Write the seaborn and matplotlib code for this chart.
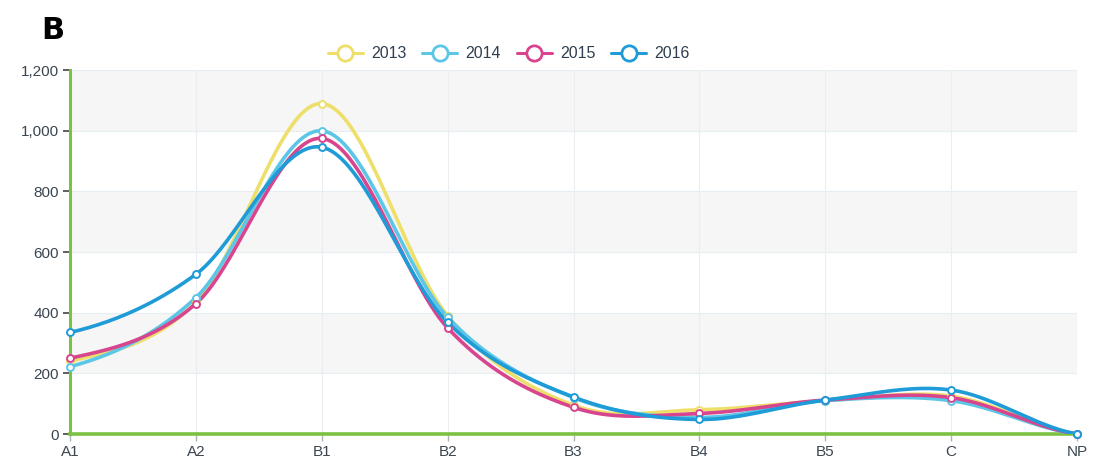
import numpy as np
import pandas as pd
import matplotlib
matplotlib.use("Agg")
import matplotlib.pyplot as plt
import seaborn as sns
from matplotlib.lines import Line2D

categories = ["A1", "A2", "B1", "B2", "B3", "B4", "B5", "C", "NP"]
years = ["2013", "2014", "2015", "2016"]
v2013 = [240, 435, 1090, 390, 95, 80, 110, 125, 0]
v2014 = [222, 450, 1000, 385, 120, 55, 110, 110, 0]
v2015 = [250, 430, 975, 350, 88, 68, 112, 120, 0]
v2016 = [335, 527, 946, 368, 122, 48, 112, 145, 0]
yticks = [0, 200, 400, 600, 800, 1000, 1200]
colors = ["#eedf6a", "#5cc6e6", "#d8458f", "#1f9bd7"]

series = [v2013, v2014, v2015, v2016]

sns.set_theme(style="white")
plt.rcParams['font.family'] = ['Liberation Sans', 'DejaVu Sans']

fig = plt.figure(figsize=(10.94, 4.68), dpi=100)
ax = fig.add_axes([0.064, 0.0726, 0.9205, 0.7774])


def catmull(xs, ys, n=40):
    xs = np.asarray(xs, float)
    ys = np.asarray(ys, float)
    px = np.concatenate([[2 * xs[0] - xs[1]], xs, [2 * xs[-1] - xs[-2]]])
    py = np.concatenate([[ys[0]], ys, [ys[-1]]])
    ox, oy = [], []
    for i in range(1, len(px) - 2):
        t = np.linspace(0, 1, n, endpoint=False)
        p0, p1, p2, p3 = py[i - 1], py[i], py[i + 1], py[i + 2]
        x1, x2 = px[i], px[i + 1]
        ox.append(x1 + (x2 - x1) * t)
        oy.append(0.5 * ((2 * p1) + (-p0 + p2) * t + (2 * p0 - 5 * p1 + 4 * p2 - p3) * t ** 2
                         + (-p0 + 3 * p1 - 3 * p2 + p3) * t ** 3))
    ox.append([xs[-1]])
    oy.append([ys[-1]])
    return np.concatenate(ox), np.concatenate(oy)


# background bands
for i, lo in enumerate(yticks[:-1]):
    if i % 2 == 1:
        ax.axhspan(lo, lo + 200, color="#f6f6f6", zorder=0, lw=0)
for y in yticks:
    ax.axhline(y, color="#e6eef3", lw=0.8, zorder=0.5)
for x in range(len(categories)):
    ax.axvline(x, color="#e9eef2", lw=0.8, zorder=0.5)

xpos = np.arange(len(categories))
rows = []
for yr, vals in zip(years, series):
    sx, sy = catmull(xpos, vals)
    rows.append(pd.DataFrame({"x": sx, "value": sy, "year": yr}))
smooth = pd.concat(rows, ignore_index=True)
raw = pd.DataFrame({
    "x": np.tile(xpos, len(years)),
    "value": np.concatenate(series),
    "year": np.repeat(years, len(categories)),
})
pal = dict(zip(years, colors))

sns.lineplot(data=smooth, x="x", y="value", hue="year", palette=pal, lw=2.6,
             ax=ax, legend=False, sort=False, estimator=None, zorder=3)
for yr in years:
    d = raw[raw.year == yr]
    ax.plot(d.x, d.value, ls="none", marker="o", ms=5, mfc="white",
            mec=pal[yr], mew=1.4, zorder=4, clip_on=False)

ax.set_xlim(0, len(categories) - 1)
ax.set_ylim(0, 1200)
ax.set_xticks(xpos)
ax.set_xticklabels(categories)
ax.set_yticks(yticks)
ax.set_yticklabels([f"{v:,}" for v in yticks])
ax.set_xlabel("")
ax.set_ylabel("")
for s in ["top", "right"]:
    ax.spines[s].set_visible(False)
ax.spines["left"].set_color("#7cc242")
ax.spines["left"].set_linewidth(2.2)
ax.spines["bottom"].set_color("#7cc242")
ax.spines["bottom"].set_linewidth(2.6)
ax.tick_params(axis="y", length=5, width=1.2, color="#444444", labelsize=11,
               labelcolor="#3a4550", pad=3, left=True)
ax.tick_params(axis="x", length=5, width=1, color="#aab4bb", labelsize=11,
               labelcolor="#3a4550", pad=3, bottom=True)

handles = [Line2D([0], [0], color=c, lw=2.2, marker="o", ms=11, mfc="white", mew=2)
           for c in colors]
fig.legend(handles, years, loc="center", bbox_to_anchor=(0.465, 0.885), ncol=4,
           frameon=False, fontsize=11.5, handlelength=2.2, columnspacing=1.0,
           handletextpad=0.5, labelcolor="#2f3f4f")

fig.text(0.038, 0.935, "B", fontsize=22, fontweight="bold", color="black",
         ha="left", va="center", family=["DejaVu Sans"])

fig.savefig("out.png", dpi=100)
